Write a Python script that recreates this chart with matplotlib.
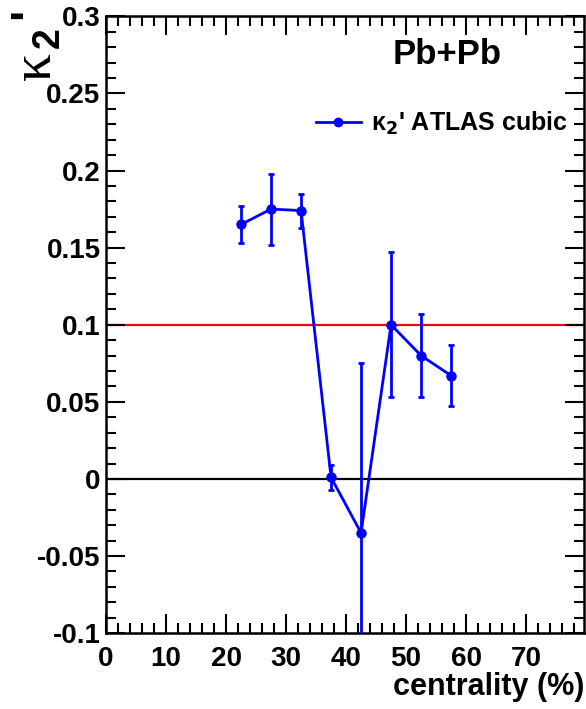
import matplotlib
matplotlib.use("Agg")
import matplotlib.pyplot as plt
from matplotlib.ticker import MultipleLocator
from matplotlib.lines import Line2D

plt.rcParams['font.family'] = ['Liberation Sans', 'DejaVu Sans']
plt.rcParams['font.weight'] = 'bold'

# data
centrality = [22.5, 27.5, 32.5, 37.5, 42.5, 47.5, 52.5, 57.5]
kappa2 = [0.165, 0.175, 0.174, 0.001, -0.035, 0.100, 0.080, 0.067]
kappa2_err = [0.012, 0.023, 0.011, 0.008, 0.110, 0.047, 0.027, 0.020]
ref_line = 0.1

W, H = 586, 709
fig = plt.figure(figsize=(W / 100, H / 100), dpi=100)
ax = fig.add_axes([0.181, 0.107, 0.816, 0.870])

ax.axhline(ref_line, color='red', lw=1.6, zorder=1)
ax.axhline(0.0, color='black', lw=1.6, zorder=1)

ax.errorbar(centrality, kappa2, yerr=kappa2_err, color='blue', marker='o',
            ms=6.5, lw=2, elinewidth=2, capsize=2, capthick=2, zorder=3)

ax.set_xlim(0, 79.7)
ax.set_ylim(-0.1, 0.3)

ax.xaxis.set_minor_locator(MultipleLocator(2))
ax.yaxis.set_minor_locator(MultipleLocator(0.01))
ax.set_xticks([0, 10, 20, 30, 40, 50, 60, 70])
ax.set_yticks([-0.1, -0.05, 0, 0.05, 0.1, 0.15, 0.2, 0.25, 0.3])
ax.set_yticklabels(['-0.1', '-0.05', '0', '0.05', '0.1', '0.15', '0.2', '0.25', '0.3'])

ax.tick_params(which='both', direction='in', top=True, right=True, width=1.5)
ax.tick_params(which='major', length=14, labelsize=20)
ax.tick_params(axis='x', which='major', pad=9)
ax.tick_params(axis='y', which='major', pad=4)
ax.tick_params(which='minor', length=7)
for lab in ax.get_xticklabels() + ax.get_yticklabels():
    lab.set_fontweight('bold')
for sp in ax.spines.values():
    sp.set_linewidth(1.8)

ax.set_xlabel('centrality (%)', fontsize=22, fontweight='bold', loc='right',
              labelpad=0)

# y title kappa_2' built from pieces (ROOT style, rotated)
def px(x, y):
    return x / W, 1 - y / H

fig.text(*px(50, 66), 'κ', rotation=90, rotation_mode='anchor',
         ha='center', va='baseline', fontsize=40, fontweight='normal',
         family='Liberation Serif')
fig.text(*px(59, 38), '2', rotation=90, rotation_mode='anchor',
         ha='center', va='baseline', fontsize=27, fontweight='bold')
fig.text(*px(41, 13), "'", rotation=90, rotation_mode='anchor',
         ha='center', va='baseline', fontsize=34, fontweight='bold')

ax.text(0.827, 0.965, 'Pb+Pb', transform=ax.transAxes, ha='right', va='top',
        fontsize=25, fontweight='bold')

h = Line2D([], [], color='blue', marker='o', ms=6, lw=2)
ax.legend([h], ["κ$_2$' ATLAS cubic"], loc='upper right',
          bbox_to_anchor=(1.012, 0.885), frameon=False,
          handlelength=1.8, handletextpad=0.4,
          prop={'weight': 'bold', 'size': 18})

fig.savefig('out.png', dpi=100)
